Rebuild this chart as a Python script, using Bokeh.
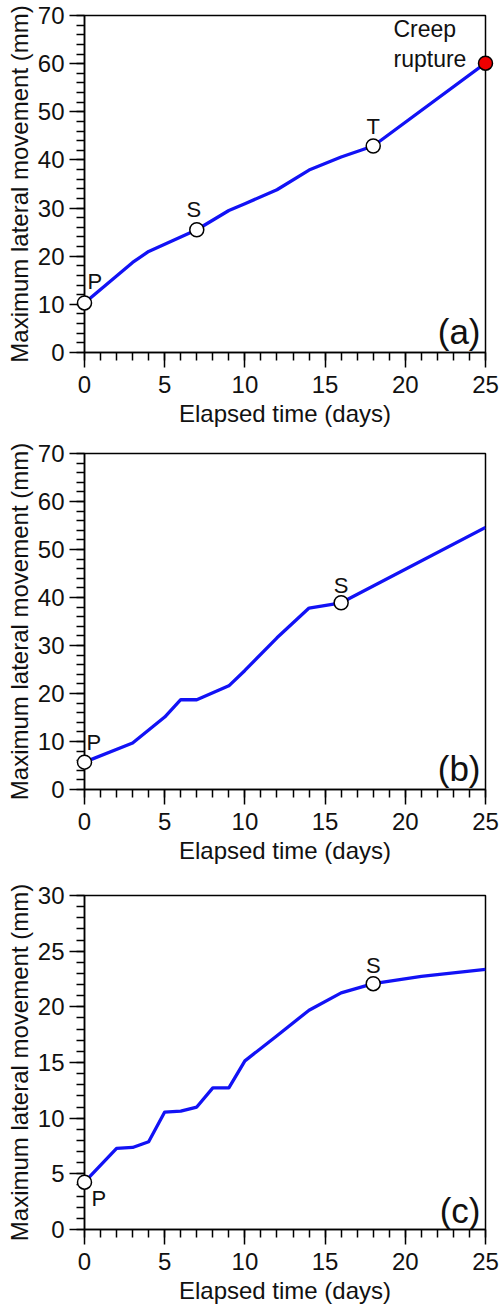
from bokeh.plotting import figure
from bokeh.layouts import column
from bokeh.models import SingleIntervalTicker, Range1d, Label
from bokeh.core.properties import value
from bokeh.embed import file_html
from bokeh.resources import INLINE

FONT = "Liberation Sans"

# ---------------- data ----------------
x_label = "Elapsed time (days)"
y_label = "Maximum lateral movement (mm)"

# Panel (a)
a_days = [0, 3, 4, 7, 9, 10, 12, 14, 16, 18, 25]
a_move = [10.3, 18.7, 21.0, 25.5, 29.5, 30.9, 33.8, 37.9, 40.6, 42.9, 60.1]
a_stage_idx = [0, 3, 9]
a_stage_txt = ["P", "S", "T"]
a_rupture_idx = 10
a_rupture_txt = "Creep\nrupture"

# Panel (b)
b_days = [0, 3, 5, 6, 7, 9, 10, 12, 14, 16, 25]
b_move = [5.7, 9.7, 15.1, 18.7, 18.7, 21.6, 24.8, 31.6, 37.8, 38.9, 54.6]
b_stage_idx = [0, 9]
b_stage_txt = ["P", "S"]

# Panel (c)
c_days = [0, 2, 3, 4, 5, 6, 7, 8, 9, 10, 12, 14, 16, 18, 21, 25]
c_move = [4.25, 7.28, 7.37, 7.88, 10.55, 10.64, 11.0, 12.72, 12.72, 15.15,
          17.4, 19.7, 21.25, 22.08, 22.73, 23.37]
c_stage_idx = [0, 13]
c_stage_txt = ["P", "S"]

panel_tags = ["(a)", "(b)", "(c)"]
y_max = [70, 70, 30]
y_step = [10, 10, 5]
x_max = 25
x_step = 5


def make_panel(days, move, ymax, ystep, tag, tag_dy, height, bl, br, bt, bb):
    p = figure(width=501, height=height, output_backend="svg", toolbar_location=None,
               x_range=Range1d(0, x_max), y_range=Range1d(0, ymax),
               min_border_left=bl, min_border_right=br,
               min_border_top=bt, min_border_bottom=bb)
    p.xgrid.visible = False
    p.ygrid.visible = False
    p.outline_line_color = "black"
    p.outline_line_width = 1.5
    p.outline_line_alpha = 1.0
    p.background_fill_color = "white"
    p.border_fill_color = "white"

    p.xaxis.ticker = SingleIntervalTicker(interval=x_step, num_minor_ticks=5)
    p.yaxis.ticker = SingleIntervalTicker(interval=ystep, num_minor_ticks=5)
    p.xaxis.axis_label = x_label
    p.yaxis.axis_label = y_label
    for ax in (p.xaxis, p.yaxis):
        ax.axis_line_color = "black"
        ax.axis_line_width = 1.5
        ax.major_tick_line_color = "black"
        ax.major_tick_line_width = 1.5
        ax.minor_tick_line_color = "black"
        ax.minor_tick_line_width = 1.5
        ax.major_tick_in = 0
        ax.major_tick_out = 15
        ax.minor_tick_in = 0
        ax.minor_tick_out = 8
        ax.major_label_text_font = FONT
        ax.major_label_text_font_size = "24px"
        ax.major_label_text_color = "#111111"
        ax.axis_label_text_font = FONT
        ax.axis_label_text_font_size = "24px"
        ax.axis_label_text_font_style = "normal"
        ax.axis_label_text_color = "#111111"
    p.xaxis.major_label_standoff = 8
    p.xaxis.axis_label_standoff = 4
    p.yaxis.major_label_standoff = 5
    p.yaxis.axis_label_standoff = 2

    p.line(days, move, line_color="#1212f5", line_width=3.3, line_join="round")

    p.add_layout(Label(x=x_max, y=0, text=tag, text_font=FONT, text_font_size="35px",
                       text_align="right", text_baseline="alphabetic",
                       x_offset=-5, y_offset=tag_dy, text_color="#111111"))
    return p


def stage_marks(p, days, move, idx, txts, dxs, dys, aligns):
    xs = [days[i] for i in idx]
    ys = [move[i] for i in idx]
    p.scatter(xs, ys, size=14, fill_color="white", line_color="black",
              line_width=1.5, level="overlay")
    for x, y, t, dx, dy, al in zip(xs, ys, txts, dxs, dys, aligns):
        p.text(x=[x], y=[y], text=[t], text_font=value(FONT), text_font_size="22px",
               text_align=al, text_baseline="alphabetic", x_offset=dx, y_offset=dy,
               text_color="#111111", level="overlay")


pa = make_panel(a_days, a_move, y_max[0], y_step[0], panel_tags[0], 21, 433, 84, 13, 15, 81)
stage_marks(pa, a_days, a_move, a_stage_idx, a_stage_txt,
            [3, -3, 0], [-21, -20, -19], ["left", "center", "center"])
pa.scatter([a_days[a_rupture_idx]], [a_move[a_rupture_idx]], size=14,
           fill_color="#ee0000", line_color="black", line_width=1.5, level="overlay")
pa.text(x=[a_days[a_rupture_idx]], y=[a_move[a_rupture_idx]], text=[a_rupture_txt],
        text_font=value(FONT), text_font_size="23px", text_align="left",
        text_baseline="alphabetic", x_offset=-92, y_offset=-19,
        text_line_height=1.16, text_color="#111111", level="overlay")

pb = make_panel(b_days, b_move, y_max[1], y_step[1], panel_tags[1], 21, 433, 82, 14, 20, 77)
stage_marks(pb, b_days, b_move, b_stage_idx, b_stage_txt,
            [2, 0], [-20, -17], ["left", "center"])

pc = make_panel(c_days, c_move, y_max[2], y_step[2], panel_tags[2], 19, 440, 82, 16, 29, 74)
stage_marks(pc, c_days, c_move, c_stage_idx, c_stage_txt,
            [7, 0], [16, -18], ["left", "center"])

layout = column(pa, pb, pc, spacing=0)
open("out.html", "w").write(file_html(layout, INLINE))
